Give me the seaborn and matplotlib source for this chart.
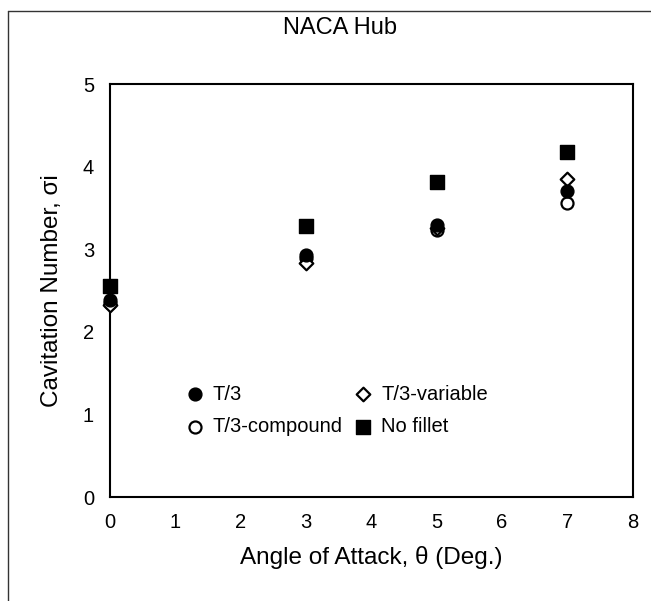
import seaborn as sns
import matplotlib.pyplot as plt
import matplotlib.lines as mlines
import pandas as pd

# 받음각별 캐비테이션 수
angle = [0, 3, 5, 7]
t3 = [2.38, 2.93, 3.30, 3.70]
t3_compound = [2.35, 2.90, 3.23, 3.56]
t3_variable = [2.32, 2.84, 3.26, 3.85]
no_fillet = [2.56, 3.28, 3.82, 4.18]

series_names = ["T/3-compound", "T/3-variable", "T/3", "No fillet"]
series_vals = [t3_compound, t3_variable, t3, no_fillet]

df = pd.concat([
    pd.DataFrame({"Angle": angle, "Sigma": v, "Series": n})
    for n, v in zip(series_names, series_vals)
])

sns.set_theme(style="white")
plt.rcParams['font.family'] = ['Liberation Sans', 'DejaVu Sans']
plt.rcParams.update({"text.color": "black", "axes.labelcolor": "black",
                     "xtick.color": "black", "ytick.color": "black"})

fig = plt.figure(figsize=(6.51, 6.01), dpi=100)
ax = fig.add_axes([0.169, 0.173, 0.803, 0.687])

styles = {
    "T/3-compound": dict(marker="o", s=75, facecolor="white", edgecolor="black", linewidth=1.6),
    "T/3-variable": dict(marker="D", s=48, facecolor="white", edgecolor="black", linewidth=1.6),
    "T/3": dict(marker="o", s=85, facecolor="black", edgecolor="black", linewidth=1),
    "No fillet": dict(marker="s", s=90, facecolor="black", edgecolor="black", linewidth=1),
}
for name in series_names:
    sns.scatterplot(data=df[df["Series"] == name], x="Angle", y="Sigma",
                    label=name, ax=ax, zorder=3, clip_on=False, **styles[name])

ax.set_xlim(0, 8)
ax.set_ylim(0, 5)
ax.set_xticks(range(0, 9))
ax.set_yticks(range(0, 6))
ax.tick_params(axis="both", direction="inout", length=7, width=1, labelsize=14.5,
               colors="black", pad=8)
for sp in ax.spines.values():
    sp.set_color("black")
    sp.set_linewidth(1.5)

ax.set_xlabel("Angle of Attack, θ (Deg.)", fontsize=17.5, labelpad=10)
ax.set_ylabel("Cavitation Number, σi", fontsize=17.5, labelpad=14)

# 범례 순서: T/3, T/3-compound | T/3-variable, No fillet
h, l = ax.get_legend_handles_labels()
order = [l.index(n) for n in ["T/3", "T/3-compound", "T/3-variable", "No fillet"]]
ax.legend([h[i] for i in order], [l[i] for i in order], ncol=2, frameon=False,
          loc="center", bbox_to_anchor=(0.435, 0.21), fontsize=14.5,
          handlelength=0.8, handletextpad=0.5, columnspacing=0.6, labelspacing=0.65)

fig.text(340 / 651, 1 - 28 / 601, "NACA Hub", ha="center", va="center", fontsize=17)

# 바깥 테두리 (위쪽과 왼쪽만 보임)
top_y = 1 - 11 / 601
left_x = 8 / 651
fig.lines.append(mlines.Line2D([left_x, 1], [top_y, top_y], transform=fig.transFigure,
                               color="#333333", linewidth=1))
fig.lines.append(mlines.Line2D([left_x, left_x], [0, top_y], transform=fig.transFigure,
                               color="#333333", linewidth=1))

fig.savefig("out.png", dpi=100)
